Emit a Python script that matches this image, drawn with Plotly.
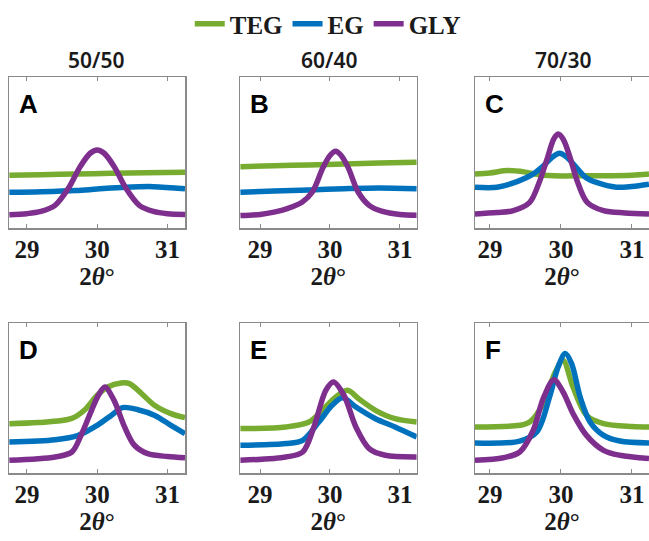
import plotly.graph_objects as go

# ---------------- data ----------------
series_names = ["TEG", "EG", "GLY"]
panel_letters = ["A", "B", "C", "D", "E", "F"]
column_titles = ["50/50", "60/40", "70/30"]
tick_values = [29, 30, 31]
tick_labels = ["29", "30", "31"]

# Panel A (50/50)
A_TEG_x = [28.75, 29.2, 29.7, 30.2, 30.7, 31.25]
A_TEG_y = [35.0, 35.3, 35.8, 36.2, 36.6, 37.0]
A_EG_x = [28.75, 29.2, 29.7, 30.0, 30.4, 30.8, 31.25]
A_EG_y = [23.6, 24.0, 24.8, 25.8, 27.0, 27.4, 26.0]
A_GLY_x = [28.75, 29.0, 29.2, 29.4, 29.6, 29.75, 29.9, 30.0, 30.1, 30.25, 30.4, 30.6, 30.8, 31.0, 31.25]
A_GLY_y = [8.8, 9.5, 11.0, 15.0, 27.0, 40.0, 49.5, 51.6, 49.5, 40.0, 27.0, 15.0, 11.0, 9.5, 9.0]

# Panel B (60/40)
B_TEG_x = [28.72, 29.2, 29.7, 30.2, 30.7, 31.24]
B_TEG_y = [40.6, 41.2, 41.8, 42.4, 43.0, 43.5]
B_EG_x = [28.72, 29.2, 29.7, 30.2, 30.7, 31.24]
B_EG_y = [23.6, 24.5, 25.2, 26.0, 26.5, 26.0]
B_GLY_x = [28.72, 29.0, 29.2, 29.4, 29.6, 29.75, 29.9, 30.0, 30.08, 30.16, 30.26, 30.4, 30.56, 30.75, 31.0, 31.24]
B_GLY_y = [8.2, 9.0, 10.5, 13.0, 17.0, 24.0, 40.0, 48.0, 50.8, 48.0, 40.0, 24.0, 15.0, 11.0, 9.0, 8.5]

# Panel C (70/30)
C_TEG_x = [28.79, 29.0, 29.25, 29.5, 29.7, 30.0, 30.3, 30.6, 31.0, 31.24]
C_TEG_y = [35.8, 36.5, 38.0, 37.0, 35.3, 34.5, 34.6, 34.6, 35.0, 35.8]
C_EG_x = [28.79, 29.1, 29.4, 29.6, 29.75, 29.88, 29.98, 30.08, 30.2, 30.35, 30.5, 30.78, 31.0, 31.24]
C_EG_y = [27.0, 27.0, 31.0, 35.5, 41.0, 47.0, 49.5, 47.0, 41.0, 33.5, 30.2, 27.0, 27.5, 29.0]
C_GLY_x = [28.79, 29.1, 29.33, 29.56, 29.7, 29.8, 29.9, 29.96, 30.03, 30.12, 30.23, 30.37, 30.6, 30.9, 31.24]
C_GLY_y = [9.3, 10.2, 11.5, 17.0, 31.0, 45.0, 59.0, 62.3, 59.0, 48.0, 31.0, 17.0, 11.5, 10.0, 9.3]

# Panel D
D_TEG_x = [28.75, 29.16, 29.64, 29.82, 30.0, 30.15, 30.34, 30.46, 30.63, 30.82, 31.05, 31.25]
D_TEG_y = [32.9, 33.6, 36.4, 42.0, 51.8, 57.3, 60.0, 59.6, 53.0, 45.0, 39.6, 36.9]
D_EG_x = [28.75, 29.4, 29.73, 30.0, 30.2, 30.36, 30.58, 30.82, 31.05, 31.25]
D_EG_y = [20.7, 22.2, 25.1, 31.8, 38.4, 43.6, 42.2, 38.4, 31.8, 26.2]
D_GLY_x = [28.75, 29.4, 29.64, 29.78, 29.92, 30.02, 30.11, 30.24, 30.39, 30.53, 30.72, 31.0, 31.25]
D_GLY_y = [8.5, 10.7, 14.0, 26.2, 41.8, 52.0, 57.3, 48.4, 30.7, 18.5, 12.9, 11.0, 10.2]

# Panel E
E_TEG_x = [28.72, 29.37, 29.70, 29.89, 30.08, 30.25, 30.41, 30.65, 30.93, 31.24]
E_TEG_y = [29.6, 30.7, 34.0, 41.8, 50.6, 55.1, 49.5, 41.8, 36.2, 34.0]
E_EG_x = [28.72, 29.37, 29.61, 29.84, 30.03, 30.18, 30.37, 30.65, 30.93, 31.24]
E_EG_y = [18.5, 19.6, 21.8, 34.0, 45.1, 50.2, 44.0, 36.2, 30.7, 24.0]
E_GLY_x = [28.72, 29.37, 29.61, 29.77, 29.94, 30.05, 30.20, 30.37, 30.56, 30.79, 31.24]
E_GLY_y = [8.5, 10.7, 14.0, 30.7, 55.1, 60.7, 51.8, 30.7, 16.3, 11.8, 10.7]

# Panel F
F_TEG_x = [28.79, 29.42, 29.56, 29.75, 29.91, 30.03, 30.17, 30.36, 30.60, 31.0, 31.24]
F_TEG_y = [30.7, 31.8, 34.0, 46.2, 66.2, 75.0, 57.3, 38.4, 32.9, 31.0, 30.7]
F_EG_x = [28.79, 29.42, 29.66, 29.84, 29.96, 30.06, 30.15, 30.27, 30.41, 30.60, 30.83, 31.24]
F_EG_y = [20.0, 21.3, 27.4, 50.7, 70.7, 79.6, 72.9, 50.7, 34.0, 25.1, 21.3, 20.0]
F_GLY_x = [28.79, 29.19, 29.42, 29.61, 29.75, 29.90, 30.03, 30.17, 30.36, 30.60, 30.83, 31.24]
F_GLY_y = [8.5, 10.2, 14.0, 28.5, 49.6, 62.2, 54.0, 39.6, 25.1, 15.1, 11.8, 9.6]

# ---------------- styling / layout ----------------
W, H = 649, 541
colors = {"TEG": "#77AC30", "EG": "#0072BD", "GLY": "#7E2F8E"}
FRAME = "#8a8a8a"
SERIF = "Liberation Serif"

panel_data = {
    "A": [(A_TEG_x, A_TEG_y), (A_EG_x, A_EG_y), (A_GLY_x, A_GLY_y)],
    "B": [(B_TEG_x, B_TEG_y), (B_EG_x, B_EG_y), (B_GLY_x, B_GLY_y)],
    "C": [(C_TEG_x, C_TEG_y), (C_EG_x, C_EG_y), (C_GLY_x, C_GLY_y)],
    "D": [(D_TEG_x, D_TEG_y), (D_EG_x, D_EG_y), (D_GLY_x, D_GLY_y)],
    "E": [(E_TEG_x, E_TEG_y), (E_EG_x, E_EG_y), (E_GLY_x, E_GLY_y)],
    "F": [(F_TEG_x, F_TEG_y), (F_EG_x, F_EG_y), (F_GLY_x, F_GLY_y)],
}

# pixel geometry of panels (left, right) per column, (top, bottom) per row
col_px = [(9, 185), (240, 416.7), (475, 649)]
col_range = [[28.745, 31.25], [28.714, 31.239], [28.79, 31.24]]
row_px = [(77, 228), (323, 473)]

fig = go.Figure()
layout_axes = {}
annotations = []

for i, letter in enumerate(panel_letters):
    r, c = divmod(i, 3)
    n = i + 1
    xa = "x" if n == 1 else f"x{n}"
    ya = "y" if n == 1 else f"y{n}"
    for k, name in enumerate(series_names):
        xs, ys = panel_data[letter][k]
        fig.add_trace(go.Scatter(
            x=xs, y=ys, mode="lines", name=name,
            line=dict(color=colors[name], width=5.5, shape="spline", smoothing=0.9),
            xaxis=xa, yaxis=ya, legendgroup=name, showlegend=(i == 0),
            hoverinfo="skip"))
    l, rr = col_px[c]
    t, b = row_px[r]
    last_col = (c == 2)
    layout_axes["xaxis" if n == 1 else f"xaxis{n}"] = dict(
        domain=[l / W, rr / W], range=col_range[c], anchor=ya,
        tickvals=tick_values, ticktext=tick_labels,
        ticks="inside", ticklen=4, tickwidth=1, tickcolor=FRAME,
        showline=True, linecolor=FRAME, linewidth=1.5, mirror="ticks",
        showgrid=False, zeroline=False, fixedrange=True,
        tickfont=dict(family=SERIF, size=25, color="#1a1a1a", weight="bold"),
        ticklabelstandoff=-2,
        title=dict(text="2<i>θ</i>°", standoff=0,
                   font=dict(family=SERIF, size=25, color="#1a1a1a", weight="bold")),
    )
    layout_axes["yaxis" if n == 1 else f"yaxis{n}"] = dict(
        domain=[(H - b) / H, (H - t) / H], range=[0, 100], anchor=xa,
        showticklabels=False, ticks="", showgrid=False, zeroline=False,
        showline=True, linecolor=FRAME, linewidth=1.5,
        mirror=(not last_col), fixedrange=True,
    )
    # panel letter
    annotations.append(dict(
        text=f"<b>{letter}</b>", xref="paper", yref="paper",
        x=(l + 8) / W, y=(H - (t + 27)) / H, xanchor="left", yanchor="middle",
        showarrow=False, font=dict(family="Liberation Sans", size=26, color="black")))

title_cx = [96, 329, 563]
for c, ttl in enumerate(column_titles):
    annotations.append(dict(
        text=ttl, xref="paper", yref="paper", x=title_cx[c] / W, y=(H - 60) / H,
        xanchor="center", yanchor="middle", showarrow=False,
        font=dict(family="Noto Sans", size=21, color="#1a1a1a", weight=600)))

fig.update_layout(
    width=W, height=H, margin=dict(l=0, r=0, t=0, b=0),
    paper_bgcolor="white", plot_bgcolor="white",
    showlegend=True,
    legend=dict(orientation="h", x=0.505, xanchor="center", y=1 - 24 / H, yanchor="middle",
                font=dict(family=SERIF, size=25, color="#1a1a1a", weight="bold"),
                itemwidth=30, tracegroupgap=0, bgcolor="rgba(0,0,0,0)"),
    annotations=annotations,
    **layout_axes,
)

fig.write_html(
    "out.html",
    config={"displayModeBar": False, "staticPlot": True},
    post_script="document.body.style.margin='0';document.body.style.overflow='hidden';",
)
